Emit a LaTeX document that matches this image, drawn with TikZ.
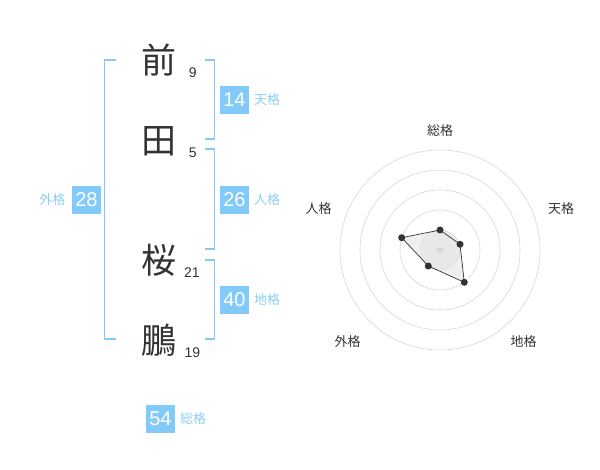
\documentclass[tikz,border=0pt]{standalone}
\usepackage{fontspec}
\setmainfont{Liberation Sans}
\newfontfamily\cjk{Noto Sans CJK JP}
\definecolor{bl}{RGB}{130,202,250}
\definecolor{bltxt}{RGB}{140,205,245}
\definecolor{dk}{RGB}{51,51,51}
\definecolor{ring}{RGB}{215,215,215}
\begin{document}
\begin{tikzpicture}[x=1pt,y=-1pt,
  kanji/.style={font=\cjk\fontsize{35}{35}\selectfont, text=dk, inner sep=0},
  strokes/.style={font=\fontsize{14}{14}\selectfont, text=dk, inner sep=0},
  valbox/.style={fill=bl, text=white, font=\fontsize{20}{20}\selectfont, minimum width=29, minimum height=28, inner sep=0},
  kaku/.style={font=\cjk\fontsize{13}{13}\selectfont, text=bltxt, inner sep=0},
  brk/.style={draw=bl, line width=1.6},
  radlab/.style={font=\cjk\fontsize{13}{13}\selectfont, text=dk, inner sep=0},
  ringc/.style={draw=ring, line width=0.6},
  dot/.style={circle, fill=dk, minimum size=7, inner sep=0}]
\useasboundingbox (0,0) rectangle (600,470);
% kanji
\node[kanji] (k1) at (159.3,60) {前};
\node[kanji] (k2) at (159.3,141.5) {田};
\node[kanji] (k3) at (159.3,260) {桜};
\node[kanji] (k4) at (159.3,340) {鵬};
\node[strokes] (s1) at (192.7,72.7) {9};
\node[strokes] (s2) at (192.7,152.7) {5};
\node[strokes] (s3) at (192,272.7) {21};
\node[strokes] (s4) at (192.3,352.7) {19};
% brackets
\draw[brk] (115.7,60) -- (104.3,60) -- (104.3,339.3) -- (115.7,339.3);
\draw[brk] (205,60) -- (214.3,60) -- (214.3,139.3) -- (205,139.3);
\draw[brk] (205,149.3) -- (214.3,149.3) -- (214.3,249.3) -- (205,249.3);
\draw[brk] (205,260) -- (214.3,260) -- (214.3,339.3) -- (205,339.3);
% values
\node[valbox] (ten) at (234.5,100) {14};
\node[kaku, anchor=west] (tenl) at (254,100) {天格};
\node[valbox] (jin) at (234.5,200) {26};
\node[kaku, anchor=west] (jinl) at (254,200) {人格};
\node[valbox] (chi) at (234.5,300) {40};
\node[kaku, anchor=west] (chil) at (254,300) {地格};
\node[valbox] (gai) at (86.5,200) {28};
\node[kaku, anchor=east] (gail) at (65.5,200) {外格};
\node[valbox] (sou) at (160.5,419) {54};
\node[kaku, anchor=west] (soul) at (180,419) {総格};
% radar
\coordinate (c) at (440,250);
\foreach \r in {40,60,80,100} \draw[ringc] (c) circle[radius=\r];
\draw[ringc, fill=black!7] (c) circle[radius=20];
\fill[black!22] (c) circle[radius=3.2];
\coordinate (p1) at (440,230);
\coordinate (p2) at (460,244.3);
\coordinate (p3) at (464.3,282.3);
\coordinate (p4) at (428.3,266);
\coordinate (p5) at (401.7,237.7);
\fill[black!10, opacity=0.6] (p1) -- (p2) -- (p3) -- (p4) -- (p5) -- cycle;
\draw[dk, line width=0.7] (p1) -- (p2) -- (p3) -- (p4) -- (p5) -- cycle;
\foreach \p in {p1,p2,p3,p4,p5} \node[dot] at (\p) {};
\node[radlab] (r1) at (440,130.7) {総格};
\node[radlab] (r2) at (561,208.3) {天格};
\node[radlab] (r3) at (523.5,341.5) {地格};
\node[radlab] (r4) at (347.5,341.5) {外格};
\node[radlab] (r5) at (318.5,209) {人格};
\end{tikzpicture}
\end{document}
